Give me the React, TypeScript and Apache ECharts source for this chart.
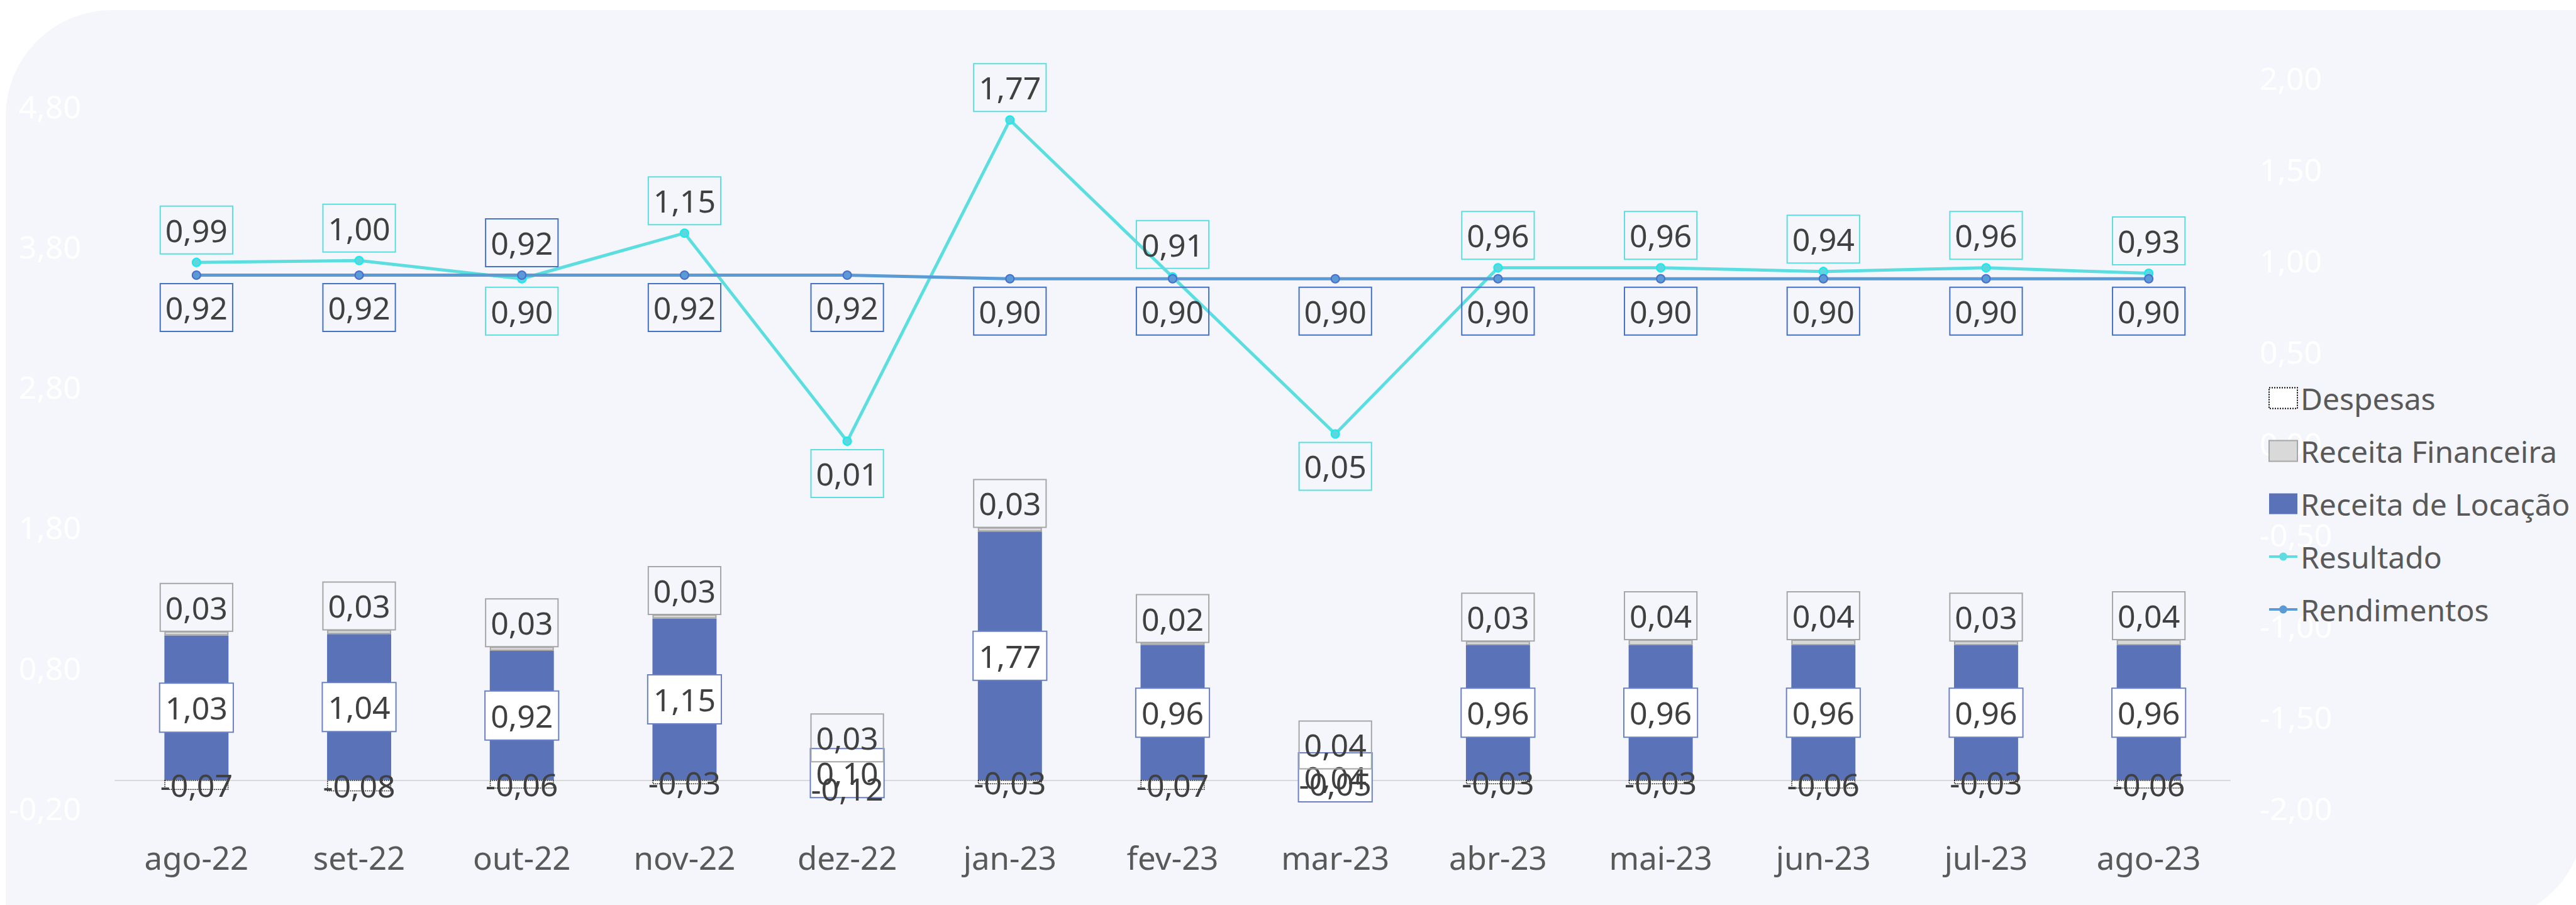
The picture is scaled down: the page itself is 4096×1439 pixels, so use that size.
import React, { useEffect, useRef } from 'react';
import * as echarts from 'echarts';

const categories = ['ago-22', 'set-22', 'out-22', 'nov-22', 'dez-22', 'jan-23', 'fev-23', 'mar-23', 'abr-23', 'mai-23', 'jun-23', 'jul-23', 'ago-23'];
const receitaLocacao = [1.03, 1.04, 0.92, 1.15, 0.10, 1.77, 0.96, 0.04, 0.96, 0.96, 0.96, 0.96, 0.96];
const receitaFinanceira = [0.03, 0.03, 0.03, 0.03, 0.03, 0.03, 0.02, 0.04, 0.03, 0.04, 0.04, 0.03, 0.04];
const despesas = [-0.07, -0.08, -0.06, -0.03, -0.12, -0.03, -0.07, -0.05, -0.03, -0.03, -0.06, -0.03, -0.06];
const resultado = [0.99, 1.00, 0.90, 1.15, 0.01, 1.77, 0.91, 0.05, 0.96, 0.96, 0.94, 0.96, 0.93];
const rendimentos = [0.92, 0.92, 0.92, 0.92, 0.92, 0.90, 0.90, 0.90, 0.90, 0.90, 0.90, 0.90, 0.90];

// label placement (layout, not data)
const resultadoLabelPos = ['top', 'top', 'bottom', 'top', 'bottom', 'top', 'top', 'bottom', 'top', 'top', 'top', 'top', 'top'];
const rendimentosLabelPos = ['bottom', 'bottom', 'top', 'bottom', 'bottom', 'bottom', 'bottom', 'bottom', 'bottom', 'bottom', 'bottom', 'bottom', 'bottom'];

const FONT = '"Noto Sans", "Open Sans", sans-serif';
const fmt = (v: number) => v.toFixed(2).replace('.', ',');

const LINE_ICON = 'path://M0,14.5L45,14.5L45,18.5L0,18.5Z M16,16.5A6.5,6.5 0 1,1 29,16.5A6.5,6.5 0 1,1 16,16.5Z';

export default function App() {
  const ref = useRef<HTMLDivElement>(null);
  useEffect(() => {
    document.body.style.margin = '0';
    const chart = echarts.init(ref.current!, null, { renderer: 'svg' });
    const labelBase = {
      show: true,
      fontFamily: FONT,
      fontSize: 50,
      color: '#404040',
      padding: [13, 8, 13, 8],
      formatter: (p: any) => fmt(Number(p.value)),
    };
    chart.setOption({
      animation: false,
      backgroundColor: '#FFFFFF',
      textStyle: { fontFamily: FONT },
      graphic: [
        {
          type: 'rect',
          z: -100,
          silent: true,
          shape: { x: 9, y: 16, width: 4101, height: 1450, r: [169, 0, 169, 0] },
          style: { fill: '#F5F6FB' },
        },
      ],
      grid: { left: 183, right: 550, top: 124, bottom: 154, containLabel: false },
      legend: {
        orient: 'vertical',
        left: 3602,
        top: 601,
        itemWidth: 45,
        itemHeight: 33,
        itemGap: 30,
        textStyle: { fontFamily: FONT, fontSize: 48, color: '#595959', lineHeight: 54 },
        data: [
          { name: 'Despesas', icon: 'rect', itemStyle: { color: '#FFFFFF', borderColor: '#000000', borderWidth: 2, borderType: 'dotted' } },
          { name: 'Receita Financeira', icon: 'rect', itemStyle: { color: '#D9D9D9', borderColor: '#A6A6A6', borderWidth: 2 } },
          { name: 'Receita de Locação', icon: 'rect', itemStyle: { color: '#5A73B8', borderWidth: 0 } },
          { name: 'Resultado', icon: LINE_ICON, itemStyle: { color: '#5CDEE0', borderWidth: 0 } },
          { name: 'Rendimentos', icon: LINE_ICON, itemStyle: { color: '#5B9BD5', borderWidth: 0 } },
        ],
      },
      xAxis: {
        type: 'category',
        data: categories,
        axisLine: { onZero: true, lineStyle: { color: '#D9D9D9', width: 2 } },
        axisTick: { show: false },
        axisLabel: { margin: 52, fontSize: 51, color: '#595959', fontFamily: FONT },
        splitLine: { show: false },
      },
      yAxis: [
        {
          type: 'value',
          min: -0.2,
          max: 5,
          interval: 1,
          axisLine: { show: false },
          axisTick: { show: false },
          splitLine: { show: false },
          axisLabel: {
            margin: 54,
            fontSize: 50,
            color: '#FFFFFF',
            fontFamily: FONT,
            formatter: (v: number) => (v > 4.9 ? '' : fmt(v)),
          },
        },
        {
          type: 'value',
          min: -2,
          max: 2,
          interval: 0.5,
          position: 'right',
          axisLine: { show: false },
          axisTick: { show: false },
          splitLine: { show: false },
          axisLabel: { margin: 47, fontSize: 50, color: '#FFFFFF', fontFamily: FONT, formatter: (v: number) => fmt(v) },
        },
      ],
      series: [
        {
          name: 'Receita de Locação',
          type: 'bar',
          stack: 'total',
          yAxisIndex: 0,
          barWidth: '39.4%',
          data: receitaLocacao,
          itemStyle: { color: '#5A73B8' },
          label: { ...labelBase, position: 'inside', backgroundColor: '#FFFFFF', borderColor: '#6A82C4', borderWidth: 2 },
        },
        {
          name: 'Receita Financeira',
          type: 'bar',
          stack: 'total',
          yAxisIndex: 0,
          data: receitaFinanceira,
          itemStyle: { color: '#D9D9D9', borderColor: '#A6A6A6', borderWidth: 2 },
          label: { ...labelBase, position: 'top', distance: 0, borderColor: '#A6A6A6', borderWidth: 2 },
        },
        {
          name: 'Despesas',
          type: 'bar',
          stack: 'total',
          yAxisIndex: 0,
          data: despesas,
          itemStyle: { color: '#FFFFFF', borderColor: '#000000', borderWidth: 1.5, borderType: 'dotted' },
          label: { ...labelBase, position: 'inside', padding: 0 },
        },
        {
          name: 'Resultado',
          type: 'line',
          yAxisIndex: 1,
          data: resultado.map((v, i) => ({ value: v, label: { position: resultadoLabelPos[i] } })),
          symbol: 'circle',
          symbolSize: 13,
          lineStyle: { color: '#5CDEE0', width: 5 },
          itemStyle: { color: '#5ED6DC', borderColor: '#10EEF2', borderWidth: 2 },
          label: { ...labelBase, distance: 6, borderColor: '#5CDEE0', borderWidth: 2 },
          z: 3,
        },
        {
          name: 'Rendimentos',
          type: 'line',
          yAxisIndex: 1,
          data: rendimentos.map((v, i) => ({ value: v, label: { position: rendimentosLabelPos[i] } })),
          symbol: 'circle',
          symbolSize: 13,
          lineStyle: { color: '#5B9BD5', width: 5 },
          itemStyle: { color: '#5B9BD5', borderColor: '#4A6ED0', borderWidth: 2 },
          label: { ...labelBase, distance: 6, borderColor: '#4472C4', borderWidth: 2 },
          z: 4,
        },
      ],
    });
    return () => chart.dispose();
  }, []);
  return <div ref={ref} style={{ position: 'fixed', left: 0, top: 0, width: 4096, height: 1439 }} />;
}
